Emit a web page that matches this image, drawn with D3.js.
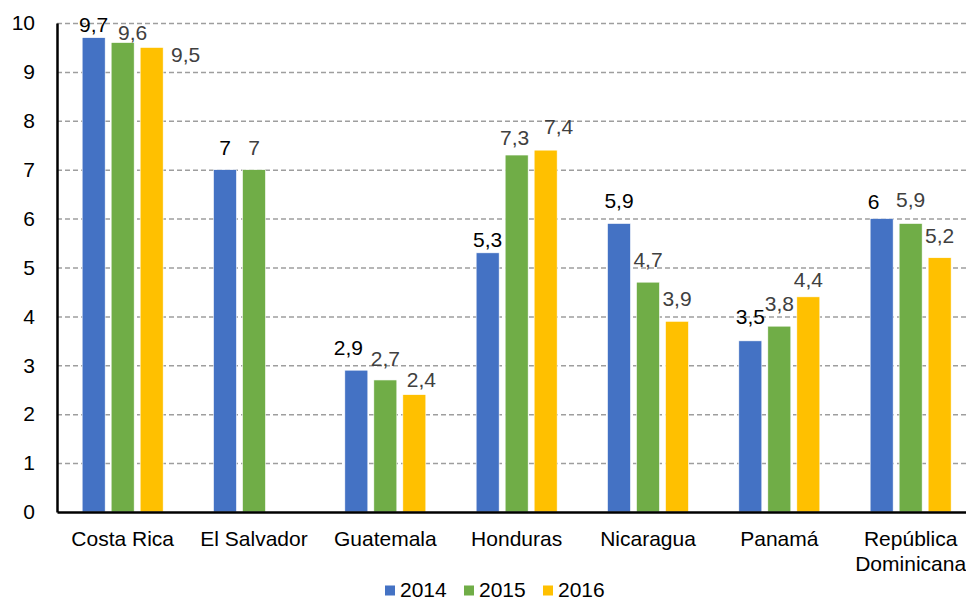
<!DOCTYPE html>
<html>
<head>
<meta charset="utf-8">
<script src="https://cdn.jsdelivr.net/npm/d3@7"></script>
<style>
  body { margin: 0; background: #fff; }
  svg { display: block; font-family: "Liberation Sans", Arial, sans-serif; }
</style>
</head>
<body>
<div id="chart"></div>
<script>

var categories = ["Costa Rica", "El Salvador", "Guatemala", "Honduras", "Nicaragua", "Panamá", "República Dominicana"];
var years = ["2014", "2015", "2016"];
var v2014 = [9.7, 7, 2.9, 5.3, 5.9, 3.5, 6];
var v2015 = [9.6, 7, 2.7, 7.3, 4.7, 3.8, 5.9];
var v2016 = [9.5, null, 2.4, 7.4, 3.9, 4.4, 5.2];
var yTicks = [0, 1, 2, 3, 4, 5, 6, 7, 8, 9, 10];

var colors = {"2014": "#4472C4", "2015": "#70AD47", "2016": "#FFC000"};
var labelColors = {"2014": "#000000", "2015": "#404040", "2016": "#404040"};

// hand-placed label nudges (dx, dy) from the default spot above each bar
var nudge = {
  "2014": [[0, 9], [0, 0], [-8, 0], [0, 9], [0, 0], [0, -2], [-8, 5]],
  "2015": [[10, 12], [0, 0], [0, 1], [-2, 5], [0, 0], [0, 0], [0, -1]],
  "2016": [[34, 30], [0, 0], [7, 7], [13, -1], [0, 0], [0, 5], [0, 0]]
};

var series = {"2014": v2014, "2015": v2015, "2016": v2016};

var W = 966, H = 599;
var plotLeft = 57, plotTop = 23, plotBottom = 512, step = 131.33;

var svg = d3.select("#chart")
  .append("svg")
    .attr("width", W)
    .attr("height", H);

var x0 = d3.scaleBand()
    .domain(categories)
    .range([plotLeft, plotLeft + step * categories.length])
    .padding(0);

var x1 = d3.scaleBand()
    .domain(years)
    .range([0, 81])
    .paddingInner(6 / 29);

var groupOffset = (x0.bandwidth() - 81) / 2;

var y = d3.scaleLinear()
    .domain([0, 10])
    .range([plotBottom, plotTop]);

// gridlines
svg.append("g")
    .attr("transform", "translate(" + plotLeft + ",0)")
    .call(d3.axisRight(y).tickValues(yTicks.slice(1)).tickSize(W - plotLeft).tickFormat(""))
    .call(function(g) { g.select(".domain").remove(); })
    .selectAll("line")
      .attr("stroke", "#9e9e9e")
      .attr("stroke-width", 1.5)
      .attr("stroke-dasharray", "5,3");

// bars
var rows = [];
years.forEach(function(yr) {
  series[yr].forEach(function(v, i) {
    if (v != null) rows.push({year: yr, cat: categories[i], i: i, value: v});
  });
});

svg.append("g").selectAll("rect")
  .data(rows)
  .enter()
  .append("rect")
    .attr("x", function(d) { return x0(d.cat) + groupOffset + x1(d.year); })
    .attr("y", function(d) { return y(d.value); })
    .attr("width", x1.bandwidth())
    .attr("height", function(d) { return plotBottom - y(d.value); })
    .attr("fill", function(d) { return colors[d.year]; })
    .attr("stroke", "#fff")
    .attr("stroke-width", 0.6);

// value labels
svg.append("g").selectAll("text")
  .data(rows)
  .enter()
  .append("text")
    .attr("x", function(d) { return x0(d.cat) + groupOffset + x1(d.year) + x1.bandwidth() / 2 + nudge[d.year][d.i][0]; })
    .attr("y", function(d) { return y(d.value) - 15 + nudge[d.year][d.i][1]; })
    .attr("text-anchor", "middle")
    .style("font-size", "21px")
    .attr("fill", function(d) { return labelColors[d.year]; })
    .text(function(d) { return String(d.value).replace(".", ","); });

// y axis
var yAxis = svg.append("g")
    .attr("transform", "translate(" + plotLeft + ",0)")
    .call(d3.axisLeft(y).tickValues(yTicks).tickSize(0).tickPadding(22));
yAxis.select(".domain").attr("stroke", "#000").attr("stroke-width", 2.5);
yAxis.selectAll("text").style("font-size", "21px").attr("fill", "#000").style("font-family", "inherit");

// x axis
var xAxis = svg.append("g")
    .attr("transform", "translate(0," + plotBottom + ")")
    .call(d3.axisBottom(x0).tickSize(0).tickSizeOuter(0));
xAxis.select(".domain").attr("stroke", "#000").attr("stroke-width", 2.5);
xAxis.selectAll("text")
    .style("font-size", "21px")
    .style("font-family", "inherit")
    .attr("fill", "#000")
    .attr("y", 33.5)
    .attr("dy", null)
    .each(function(d) {
      var t = d3.select(this);
      if (this.getComputedTextLength() > x0.bandwidth()) {
        var words = d.split(" ");
        t.text(null);
        words.forEach(function(w, k) {
          t.append("tspan").attr("x", 0).attr("dy", k === 0 ? 0 : 25).text(w);
        });
      }
    });

// legend
var legend = svg.append("g").selectAll("g")
  .data(years)
  .enter()
  .append("g")
    .attr("transform", function(d, i) { return "translate(" + (385 + i * 79) + ",585.5)"; });
legend.append("rect")
    .attr("width", 10)
    .attr("height", 10)
    .attr("fill", function(d) { return colors[d]; });
legend.append("text")
    .attr("x", 15)
    .attr("y", 11)
    .style("font-size", "21px")
    .attr("fill", "#000")
    .text(function(d) { return d; });

</script>
</body>
</html>
